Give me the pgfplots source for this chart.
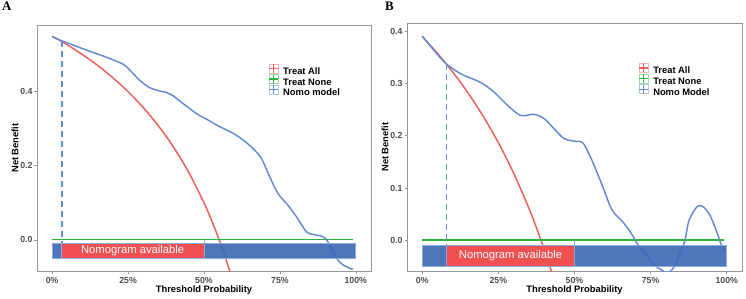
\documentclass[border=0pt]{standalone}
\usepackage{fontspec}
\setmainfont{Liberation Sans}
\newfontfamily\serifbold{Liberation Serif}
\usepackage{pgfplots}
\pgfplotsset{compat=1.18}
\definecolor{tred}{RGB}{235,98,90}
\definecolor{tgreen}{RGB}{40,180,60}
\definecolor{nblue}{RGB}{100,140,210}
\definecolor{barblue}{RGB}{58,103,180}
\definecolor{barred}{RGB}{240,80,80}
\definecolor{baredge}{RGB}{140,170,220}
\definecolor{framegray}{RGB}{150,150,150}
\definecolor{ticklab}{RGB}{77,77,77}
\pgfplotsset{
  dca/.style={
    scale only axis,
    axis line style={framegray, line width=0.8pt},
    tick style={framegray, line width=0.6pt},
    tick align=outside, major tick length=2.5bp,
    xtick pos=bottom, ytick pos=left,
    xmin=-0.05, xmax=1.05,
    xtick={0,0.25,0.5,0.75,1},
    xticklabels={0\%,25\%,50\%,75\%,100\%},
    ticklabel style={font=\fontsize{8.8}{10}\selectfont\bfseries, text=ticklab},
    yticklabel style={xshift=1.5bp},
    xlabel={Threshold Probability}, ylabel={Net Benefit},
    label style={font=\fontsize{9.4}{11}\selectfont\bfseries},
    xlabel style={yshift=4bp},
    ylabel style={yshift=-5bp},
    clip=true,
    legend cell align=left,
    legend style={draw=none, fill=none, inner sep=0pt,
      font=\fontsize{9.4}{11}\selectfont\bfseries,
      nodes={inner sep=0pt, text height=7bp, text depth=2bp},
      row sep=-2.5bp},
    legend image code/.code={
      \draw[#1, line width=0.6pt, opacity=0.45, solid] (0bp,-1bp) rectangle (9.5bp,8bp);
      \draw[#1, line width=1.2pt, solid] (0bp,3.5bp) -- (9.5bp,3.5bp) (4.75bp,-1bp) -- (4.75bp,8bp);
      \path (13.5bp,3.5bp);
    },
  }
}
\begin{document}
\begin{tikzpicture}
\path (0,0) rectangle (746bp,298bp);
\node[anchor=north west, inner sep=0pt, font=\serifbold\bfseries\fontsize{13}{14}\selectfont] at (2bp,296bp) {A};
\node[anchor=north west, inner sep=0pt, font=\serifbold\bfseries\fontsize{13}{14}\selectfont] at (385bp,296bp) {B};
% Panel A
\begin{axis}[dca, at={(37bp,27bp)}, anchor=south west, width=334bp, height=246bp,
  ymin=-0.084, ymax=0.58, ytick={0,0.2,0.4}, yticklabels={0.0,0.2,0.4},
  legend style={at={(rel axis cs:0.692,0.845)}, anchor=north west}]
\addplot[tred, line width=1.5pt, smooth] coordinates {
 (0,0.55) (0.05,0.5263) (0.1,0.5) (0.15,0.4706) (0.2,0.4375) (0.25,0.4) (0.3,0.3571)
 (0.35,0.3077) (0.4,0.25) (0.45,0.1818) (0.5,0.1) (0.525,0.0526) (0.55,0) (0.575,-0.0588) (0.6,-0.125)};
\addlegendentry{Treat All}
\addplot[tgreen, line width=1.6pt] coordinates {(0,0.0012) (0.99,0.0012)};
\addlegendentry{Treat None}
\addplot[nblue, line width=1.5pt, smooth, tension=0.5] coordinates {
 (0,0.548) (0.036,0.536) (0.124,0.509) (0.179,0.493) (0.234,0.474) (0.256,0.458)
 (0.288,0.431) (0.321,0.411) (0.354,0.402) (0.376,0.398) (0.398,0.389) (0.431,0.368)
 (0.475,0.341) (0.519,0.321) (0.541,0.310) (0.595,0.288) (0.628,0.270) (0.661,0.247)
 (0.689,0.220) (0.716,0.171) (0.743,0.126) (0.776,0.094) (0.804,0.063) (0.837,0.022)
 (0.859,0.015) (0.891,0.009) (0.908,-0.005) (0.936,-0.049) (0.957,-0.067) (0.985,-0.078) (0.99,-0.079)};
\addlegendentry{Nomo model}
\addplot[nblue, line width=1.6pt, dash pattern=on 6bp off 4bp, forget plot] coordinates {(0.0315,0.536) (0.0315,-0.01)};
\addplot[baredge, line width=0.8pt, forget plot] coordinates {(0.5,-0.01) (0.5,0)};
\addplot[fill=barblue, fill opacity=0.9, draw=baredge, line width=0.8pt, forget plot] coordinates {(0,-0.01) (1,-0.01) (1,-0.05) (0,-0.05)} -- cycle;
\addplot[fill=barred, draw=baredge, line width=0.8pt, forget plot] coordinates {(0.03,-0.01) (0.5,-0.01) (0.5,-0.05) (0.03,-0.05)} -- cycle;
\node[text=white, font=\fontsize{11.3}{12}\selectfont] at (axis cs:0.265,-0.03) {Nomogram available};
\end{axis}
% Panel B
\begin{axis}[dca, at={(407bp,27bp)}, anchor=south west, width=335bp, height=248bp,
  ymin=-0.059, ymax=0.416, ytick={0,0.1,0.2,0.3,0.4}, yticklabels={0.0,0.1,0.2,0.3,0.4},
  legend style={at={(rel axis cs:0.69,0.84)}, anchor=north west}]
\addplot[tred, line width=1.5pt, smooth] coordinates {
 (0,0.39) (0.05,0.3579) (0.1,0.3222) (0.15,0.2824) (0.2,0.2375) (0.25,0.1867) (0.3,0.1286)
 (0.35,0.0615) (0.375,0.024) (0.4,-0.0167) (0.425,-0.0609) (0.45,-0.109)};
\addlegendentry{Treat All}
\addplot[tgreen, line width=1.6pt] coordinates {(0,0) (0.99,0)};
\addlegendentry{Treat None}
\addplot[nblue, line width=1.5pt, smooth, tension=0.5] coordinates {
 (0,0.391) (0.071,0.342) (0.126,0.319) (0.192,0.302) (0.235,0.284) (0.279,0.259)
 (0.323,0.239) (0.367,0.241) (0.4,0.233) (0.432,0.214) (0.465,0.195) (0.495,0.190)
 (0.526,0.187) (0.547,0.166) (0.569,0.137) (0.597,0.096) (0.624,0.057) (0.663,0.032)
 (0.69,0.0096) (0.707,-0.0077) (0.735,-0.028) (0.76,-0.046) (0.783,-0.056) (0.805,-0.062)
 (0.827,-0.051) (0.86,-0.006) (0.876,0.038) (0.904,0.065) (0.925,0.063) (0.947,0.045)
 (0.969,0.013) (0.98,-0.006) (0.99,-0.02)};
\addlegendentry{Nomo Model}
\addplot[nblue, line width=1.6pt, dash pattern=on 6bp off 4bp, forget plot] coordinates {(0.08,0.337) (0.08,-0.01)};
\addplot[baredge, line width=0.8pt, forget plot] coordinates {(0.5,-0.01) (0.5,0)};
\addplot[fill=barblue, fill opacity=0.9, draw=baredge, line width=0.8pt, forget plot] coordinates {(0,-0.01) (1,-0.01) (1,-0.05) (0,-0.05)} -- cycle;
\addplot[fill=barred, draw=baredge, line width=0.8pt, forget plot] coordinates {(0.08,-0.01) (0.5,-0.01) (0.5,-0.05) (0.08,-0.05)} -- cycle;
\node[text=white, font=\fontsize{11.3}{12}\selectfont] at (axis cs:0.29,-0.03) {Nomogram available};
\end{axis}
\end{tikzpicture}
\end{document}
